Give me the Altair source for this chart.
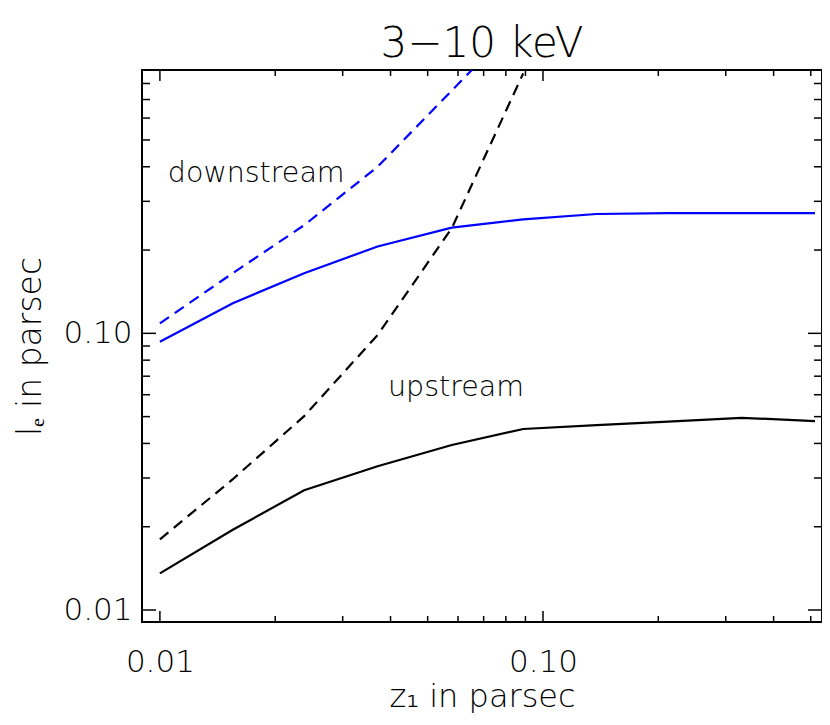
import altair as alt
import pandas as pd

# ---- data ----
z1 = [0.0100, 0.0155, 0.0238, 0.0370, 0.0578, 0.0888, 0.138, 0.212, 0.330, 0.513]
downstream_solid = [0.0932, 0.1285, 0.165, 0.206, 0.241, 0.258, 0.270, 0.272, 0.272, 0.272]
downstream_dashed = [0.1087, 0.165, 0.246, 0.400, 0.754, 1.39]
upstream_solid = [0.01356, 0.0195, 0.0271, 0.0331, 0.0395, 0.0451, 0.0466, 0.0480, 0.0495, 0.0482]
upstream_dashed = [0.0180, 0.0297, 0.0502, 0.0986, 0.240, 0.87]

x_major = [0.01, 0.1]
x_minor = [0.02, 0.03, 0.04, 0.05, 0.06, 0.07, 0.08, 0.09, 0.2, 0.3, 0.4, 0.5]
y_major = [0.01, 0.1]
y_minor = [0.02, 0.03, 0.04, 0.05, 0.06, 0.07, 0.08, 0.09, 0.2, 0.3, 0.4, 0.5, 0.6, 0.7, 0.8]

label_text = ["downstream", "upstream"]
label_x = [0.01049, 0.0394]
label_y = [0.38, 0.064]

x_domain = [0.00898, 0.535]
y_domain = [0.00905, 0.895]

W, H = 680, 552
FONT = "DejaVu Sans"

xscale = alt.Scale(type="log", domain=x_domain, nice=False)
yscale = alt.Scale(type="log", domain=y_domain, nice=False)

x_axis = alt.Axis(values=x_major, format=".2f", ticks=False, domain=False, grid=False,
                  labelFontSize=31, labelFont=FONT, labelFontWeight=200, labelPadding=25,
                  labelColor="black", title="z\u2081 in parsec", titleFont=FONT,
                  titleFontSize=32, titleFontWeight=200, titleColor="black", titlePadding=4)
y_axis = alt.Axis(values=y_major, format=".2f", ticks=False, domain=False, grid=False,
                  labelFontSize=31, labelFont=FONT, labelFontWeight=200, labelPadding=10,
                  labelColor="black", title="l\u2091 in parsec", titleFont=FONT,
                  titleFontSize=33, titleFontWeight=200, titleColor="black", titlePadding=15)


def line(xs, ys, color, dashed):
    df = pd.DataFrame({"z1": xs[:len(ys)], "le": ys})
    kw = dict(clip=True, color=color, strokeWidth=2.2)
    if dashed:
        kw["strokeDash"] = [11, 7]
    return alt.Chart(df).mark_line(**kw).encode(
        x=alt.X("z1:Q", scale=xscale, axis=x_axis),
        y=alt.Y("le:Q", scale=yscale, axis=y_axis),
    )


layers = [
    line(z1, downstream_solid, "#0000ff", False),
    line(z1, downstream_dashed, "#0000ff", True),
    line(z1, upstream_solid, "black", False),
    line(z1, upstream_dashed, "black", True),
]


def xticks(vals, length):
    df = pd.DataFrame({"t": vals})
    base = alt.Chart(df).mark_rule(color="black", strokeWidth=1.5)
    enc_x = alt.X("t:Q", scale=xscale, axis=x_axis)
    bottom = base.encode(x=enc_x, y=alt.value(H), y2=alt.value(H - length))
    top = base.encode(x=enc_x, y=alt.value(0), y2=alt.value(length))
    return [bottom, top]


def yticks(vals, length):
    df = pd.DataFrame({"t": vals})
    base = alt.Chart(df).mark_rule(color="black", strokeWidth=1.5)
    enc_y = alt.Y("t:Q", scale=yscale, axis=y_axis)
    left = base.encode(y=enc_y, x=alt.value(0), x2=alt.value(length))
    right = base.encode(y=enc_y, x=alt.value(W - length), x2=alt.value(W))
    return [left, right]


layers += xticks(x_major, 11) + xticks(x_minor, 6) + yticks(y_major, 14) + yticks(y_minor, 8)

labels_df = pd.DataFrame({"text": label_text, "x": label_x, "y": label_y})
layers.append(
    alt.Chart(labels_df).mark_text(align="left", baseline="middle", fontSize=28.5, font=FONT,
                                   fontWeight=200, color="black").encode(
        x=alt.X("x:Q", scale=xscale, axis=x_axis),
        y=alt.Y("y:Q", scale=yscale, axis=y_axis),
        text="text:N",
    )
)

chart = alt.layer(*layers).properties(
    width=W, height=H,
    title=alt.TitleParams("3\u221210 keV", fontSize=42, font=FONT, fontWeight=200,
                          color="black", anchor="middle", offset=3),
    autosize=alt.AutoSizeParams(type="none"),
    padding={"left": 134, "top": 62, "right": 0, "bottom": 95},
).configure(background="white").configure_view(stroke="black", strokeWidth=2)

chart.save("out.html", embed_options={"renderer": "svg", "actions": False})
